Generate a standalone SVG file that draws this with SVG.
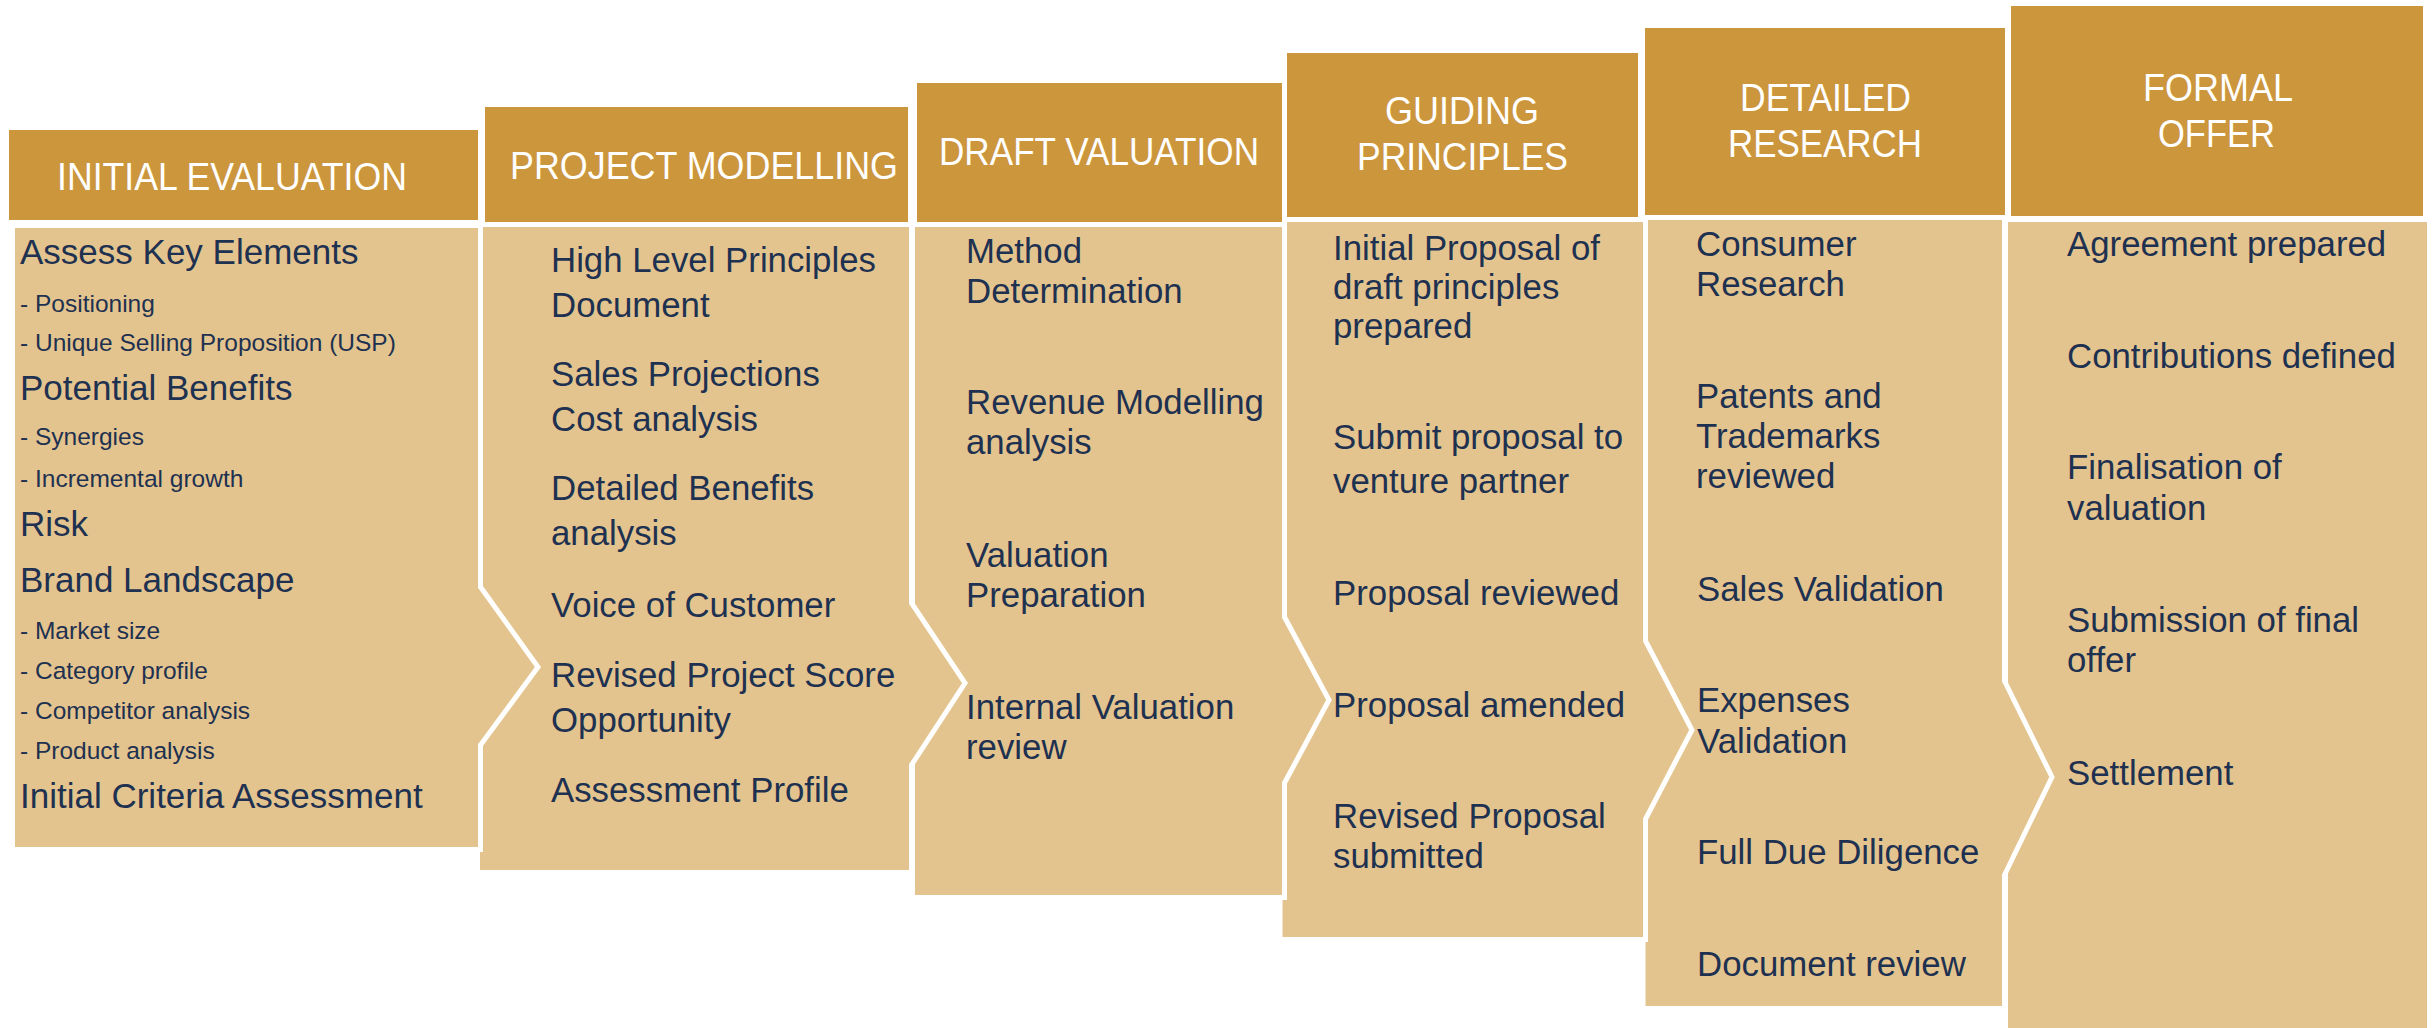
<svg xmlns="http://www.w3.org/2000/svg" width="2435" height="1028" viewBox="0 0 2435 1028">
<style>
.hd{fill:#CC963D}
.bd{fill:#E4C48E;stroke:#ffffff;stroke-width:5;stroke-linejoin:miter}
.ht{font-family:"Liberation Sans",Arial,sans-serif;font-size:38px;fill:#ffffff}
.t{font-family:"Liberation Sans",Arial,sans-serif;font-size:34.8px;fill:#1E3150}
.b{font-size:35px}
.s{font-size:24.5px}
</style>
<rect x="0" y="0" width="2435" height="1028" fill="#ffffff"/>

<g id="formal-offer">
<rect class="hd" x="2011" y="6" width="412" height="210"/>
<polygon class="bd" points="2005.5,219.5 2429.5,219.5 2429.5,1035 2005.5,1035"/>
<text class="ht" x="2143" y="101" textLength="150" lengthAdjust="spacingAndGlyphs">FORMAL</text>
<text class="ht" x="2158" y="147" textLength="117" lengthAdjust="spacingAndGlyphs">OFFER</text>
<text class="t" x="2067" y="256">Agreement prepared</text>
<text class="t" x="2067" y="368">Contributions defined</text>
<text class="t" x="2067" y="479">Finalisation of</text>
<text class="t" x="2067" y="520">valuation</text>
<text class="t" x="2067" y="632">Submission of final</text>
<text class="t" x="2067" y="672">offer</text>
<text class="t" x="2067" y="785">Settlement</text>
</g>

<g id="detailed-research">
<rect class="hd" x="1645" y="28" width="360" height="187"/>
<polygon class="bd" points="1643,217.5 2004.5,217.5 2004.5,681 2052,777 2004.5,875 2004.5,1008.5 1643,1008.5"/>
<text class="ht" x="1740" y="111" textLength="171" lengthAdjust="spacingAndGlyphs">DETAILED</text>
<text class="ht" x="1728" y="157" textLength="194" lengthAdjust="spacingAndGlyphs">RESEARCH</text>
<text class="t" x="1696" y="256">Consumer</text>
<text class="t" x="1696" y="296">Research</text>
<text class="t" x="1696" y="408">Patents and</text>
<text class="t" x="1696" y="448">Trademarks</text>
<text class="t" x="1696" y="488">reviewed</text>
<text class="t" x="1697" y="601">Sales Validation</text>
<text class="t" x="1697" y="712">Expenses</text>
<text class="t" x="1697" y="753">Validation</text>
<text class="t" x="1697" y="864">Full Due Diligence</text>
<text class="t" x="1697" y="976">Document review</text>
</g>

<g id="guiding-principles">
<rect class="hd" x="1287" y="53" width="351" height="164"/>
<polygon class="bd" points="1280,219.5 1645.5,219.5 1645.5,641 1692,730 1645.5,819 1645.5,939.5 1280,939.5"/>
<text class="ht" x="1385" y="124" textLength="154" lengthAdjust="spacingAndGlyphs">GUIDING</text>
<text class="ht" x="1357" y="170" textLength="211" lengthAdjust="spacingAndGlyphs">PRINCIPLES</text>
<text class="t" x="1333" y="260">Initial Proposal of</text>
<text class="t" x="1333" y="299">draft principles</text>
<text class="t" x="1333" y="338">prepared</text>
<text class="t" x="1333" y="449">Submit proposal to</text>
<text class="t" x="1333" y="493">venture partner</text>
<text class="t" x="1333" y="605">Proposal reviewed</text>
<text class="t" x="1333" y="717">Proposal amended</text>
<text class="t" x="1333" y="828">Revised Proposal</text>
<text class="t" x="1333" y="868">submitted</text>
</g>

<g id="draft-valuation">
<rect class="hd" x="917" y="83" width="365" height="139"/>
<polygon class="bd" points="912.5,224.5 1284.5,224.5 1284.5,617 1329,700 1284.5,783 1284.5,897.5 912.5,897.5"/>
<text class="ht" x="939" y="165" textLength="320" lengthAdjust="spacingAndGlyphs">DRAFT VALUATION</text>
<text class="t" x="966" y="263">Method</text>
<text class="t" x="966" y="303">Determination</text>
<text class="t" x="966" y="414">Revenue Modelling</text>
<text class="t" x="966" y="454">analysis</text>
<text class="t" x="966" y="567">Valuation</text>
<text class="t" x="966" y="607">Preparation</text>
<text class="t" x="966" y="719">Internal Valuation</text>
<text class="t" x="966" y="759">review</text>
</g>

<g id="project-modelling">
<rect class="hd" x="485" y="107" width="423" height="115"/>
<polygon class="bd" points="477.5,224.5 911.5,224.5 911.5,603 965,683 911.5,765 911.5,872.5 477.5,872.5"/>
<text class="ht" x="510" y="179" textLength="388" lengthAdjust="spacingAndGlyphs">PROJECT MODELLING</text>
<text class="t" x="551" y="272">High Level Principles</text>
<text class="t" x="551" y="317">Document</text>
<text class="t" x="551" y="386">Sales Projections</text>
<text class="t" x="551" y="431">Cost analysis</text>
<text class="t" x="551" y="500">Detailed Benefits</text>
<text class="t" x="551" y="545">analysis</text>
<text class="t" x="551" y="617">Voice of Customer</text>
<text class="t" x="551" y="687">Revised Project Score</text>
<text class="t" x="551" y="732">Opportunity</text>
<text class="t" x="551" y="802">Assessment Profile</text>
</g>

<g id="initial-evaluation">
<rect class="hd" x="9" y="130" width="469" height="90"/>
<polygon class="bd" points="12.5,225.5 480.5,225.5 480.5,587 538,667 480.5,745 480.5,849.5 12.5,849.5"/>
<text class="ht" x="57" y="190" textLength="350" lengthAdjust="spacingAndGlyphs">INITIAL EVALUATION</text>
<text class="t b" x="20" y="264">Assess Key Elements</text>
<text class="t s" x="20" y="312">- Positioning</text>
<text class="t s" x="20" y="351">- Unique Selling Proposition (USP)</text>
<text class="t b" x="20" y="400">Potential Benefits</text>
<text class="t s" x="20" y="445">- Synergies</text>
<text class="t s" x="20" y="487">- Incremental growth</text>
<text class="t b" x="20" y="536">Risk</text>
<text class="t b" x="20" y="592">Brand Landscape</text>
<text class="t s" x="20" y="639">- Market size</text>
<text class="t s" x="20" y="679">- Category profile</text>
<text class="t s" x="20" y="719">- Competitor analysis</text>
<text class="t s" x="20" y="759">- Product analysis</text>
<text class="t b" x="20" y="808">Initial Criteria Assessment</text>
</g>
</svg>
